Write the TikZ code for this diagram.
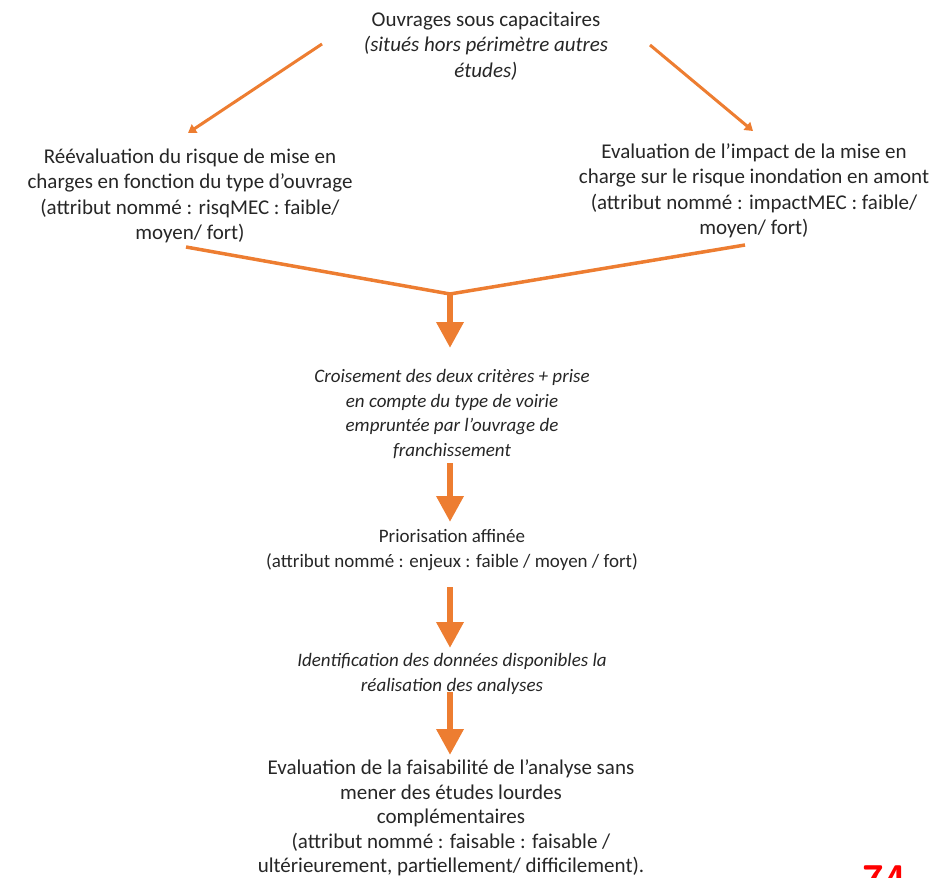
\documentclass[tikz,border=0pt]{standalone}
\usepackage{fontspec}
\setmainfont{Carlito}
\usetikzlibrary{arrows.meta}
\definecolor{arr}{HTML}{ED7D31}
\definecolor{pagered}{HTML}{FF0000}
\begin{document}
\begin{tikzpicture}[x=1pt,y=-1pt,
  txt/.style={align=center,inner sep=0pt,font=\fontsize{21}{25.5}\selectfont,text=black!85},
  itxt/.style={txt,font=\fontsize{19}{24.5}\selectfont\itshape},
  thinarr/.style={draw=arr,line width=3pt,-{Triangle[width=10pt,length=8pt]}},
  joinline/.style={draw=arr,line width=3.5pt},
  fatarr/.style={draw=arr,line width=6.5pt,-{Triangle[width=26pt,length=26pt]}}]
\useasboundingbox (0,0) rectangle (933,877);
\clip (0,0) rectangle (933,877);
\node[txt] (top) at (486,46) {Ouvrages sous capacitaires\\ {\itshape (situés hors périmètre autres}\\ {\itshape études)}};
\node[txt] (left) at (190,196) {Réévaluation du risque de mise en\\ charges en fonction du type d’ouvrage\\ (attribut nommé : risqMEC : faible/\\ moyen/ fort)};
\node[txt] (right) at (754,191) {Evaluation de l’impact de la mise en\\ charge sur le risque inondation en amont\\ (attribut nommé : impactMEC : faible/\\ moyen/ fort)};
\node[itxt] (cross) at (452,414) {Croisement des deux critères + prise\\ en compte du type de voirie\\ empruntée par l’ouvrage de\\ franchissement};
\node[txt,font=\fontsize{19}{25.5}\selectfont] (prio) at (452,550) {Priorisation affinée\\ (attribut nommé : enjeux : faible / moyen / fort)};
\node[itxt] (ident) at (452,674) {Identification des données disponibles la\\ réalisation des analyses};
\node[txt,font=\fontsize{21}{24.5}\selectfont] (eval) at (451,818) {Evaluation de la faisabilité de l’analyse sans\\ mener des études lourdes\\ complémentaires\\ (attribut nommé : faisable : faisable /\\ ultérieurement, partiellement/ difficilement).};
\node[anchor=base west,inner sep=0pt,text=pagered,font=\fontsize{40}{40}\selectfont\bfseries\sffamily] (pg) at (862,893) {74};
\coordinate (tl) at (322,44);
\coordinate (tr) at (650,45);
\coordinate (ll) at (186,247);
\coordinate (rr) at (745,245);
\coordinate (m) at (450,294);
\draw[thinarr] (tl) -- (188,133);
\draw[thinarr] (tr) -- (753,131);
\draw[joinline] (ll) -- (m) -- (rr);
\draw[fatarr] (m) -- (450,348);
\draw[fatarr] (450,463) -- (450,522);
\draw[fatarr] (450,587) -- (450,648);
\draw[fatarr] (450,692) -- (450,755);
\end{tikzpicture}
\end{document}
